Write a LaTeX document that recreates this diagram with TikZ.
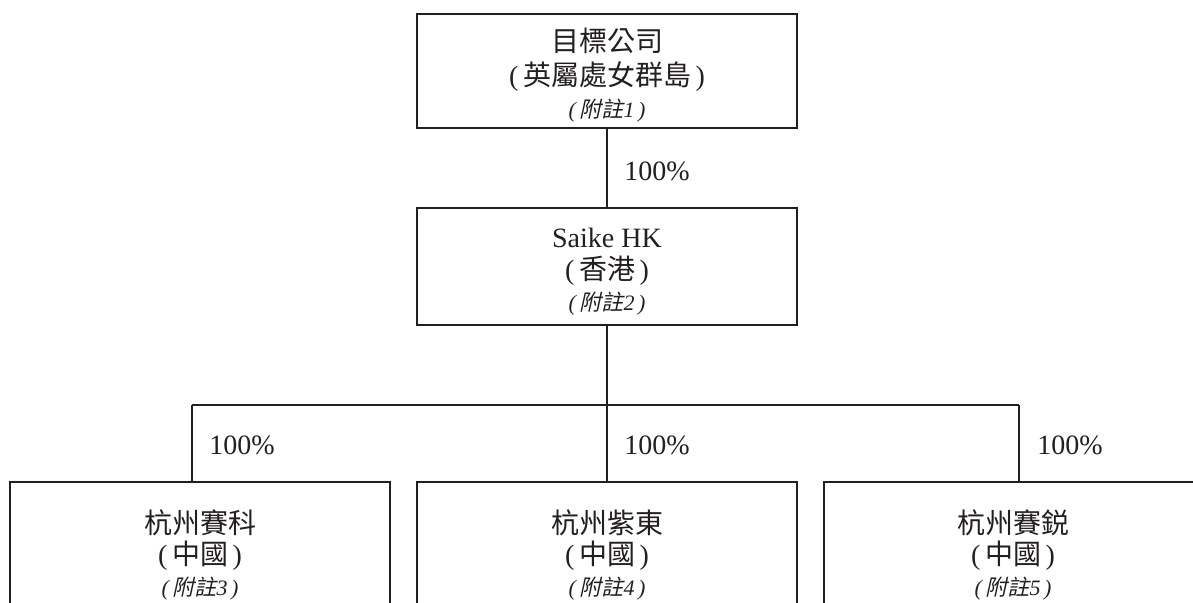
\documentclass[tikz,border=0pt]{standalone}
\usepackage{fontspec}
\setmainfont{Liberation Serif}
\newfontfamily\cjk{Noto Sans CJK TC}
\newfontfamily\cjkit[FakeSlant=0.22]{Noto Sans CJK TC}
\definecolor{ink}{HTML}{231F20}
\newcommand{\cn}[1]{{\cjk #1}}
\newcommand{\note}[1]{{\fontsize{16.5}{18}\selectfont\itshape(\,{\cjkit 附註}#1\,)}}
\newcommand{\pc}[1]{(\,{\cjk #1}\,)}
\begin{document}
\begin{tikzpicture}[x=0.75pt,y=-0.75pt,
  box/.style={draw=ink, line width=1pt, minimum width=285pt, inner sep=0pt},
  txt/.style={text=ink, inner sep=0pt, font=\fontsize{21}{24}\selectfont},
  pct/.style={text=ink, inner sep=0pt, anchor=west, font=\fontsize{21}{24}\selectfont},
  link/.style={draw=ink, line width=1pt}]
\path[use as bounding box, clip] (0,0) rectangle (1193,603);
% boxes
\node[box, minimum height=85.5pt] (tgt) at (607,71) {};
\node[box, minimum height=87.75pt] (hk) at (607,266.5) {};
\node[box, minimum height=120pt] (b1) at (200,562) {};
\node[box, minimum height=120pt] (b2) at (607,562) {};
\node[box, minimum height=120pt, minimum width=283.5pt] (b3) at (1013,562) {};
% texts
\node[txt] (t1) at (607,41) {\cn{目標公司}};
\node[txt] (t2) at (607,77) {\pc{英屬處女群島}};
\node[txt] (t3) at (607,111) {\note{1}};
\node[txt] (h1) at (607,238) {Saike HK};
\node[txt] (h2) at (607,271) {\pc{香港}};
\node[txt] (h3) at (607,304) {\note{2}};
\node[txt] (a1) at (200,523) {\cn{杭州賽科}};
\node[txt] (a2) at (200,556) {\pc{中國}};
\node[txt] (a3) at (200,589) {\note{3}};
\node[txt] (c1) at (607,523) {\cn{杭州紫東}};
\node[txt] (c2) at (607,556) {\pc{中國}};
\node[txt] (c3) at (607,589) {\note{4}};
\node[txt] (d1) at (1013,523) {\cn{杭州賽鋭}};
\node[txt] (d2) at (1013,556) {\pc{中國}};
\node[txt] (d3) at (1013,589) {\note{5}};
% connectors
\coordinate (bar) at (607,405);
\coordinate (j1) at (192,405);
\coordinate (j3) at (1019,405);
\draw[link] (tgt.south) -- (hk.north);
\draw[link] (hk.south) -- (bar);
\draw[link] (j1) -- (j3);
\draw[link] (j1) -- (j1 |- b1.north);
\draw[link] (bar) -- (b2.north);
\draw[link] (j3) -- (j3 |- b3.north);
% labels
\node[pct] (p0) at (624,171) {100\%};
\node[pct] (p1) at (209,445) {100\%};
\node[pct] (p2) at (624,445) {100\%};
\node[pct] (p3) at (1037,445) {100\%};
\end{tikzpicture}
\end{document}
